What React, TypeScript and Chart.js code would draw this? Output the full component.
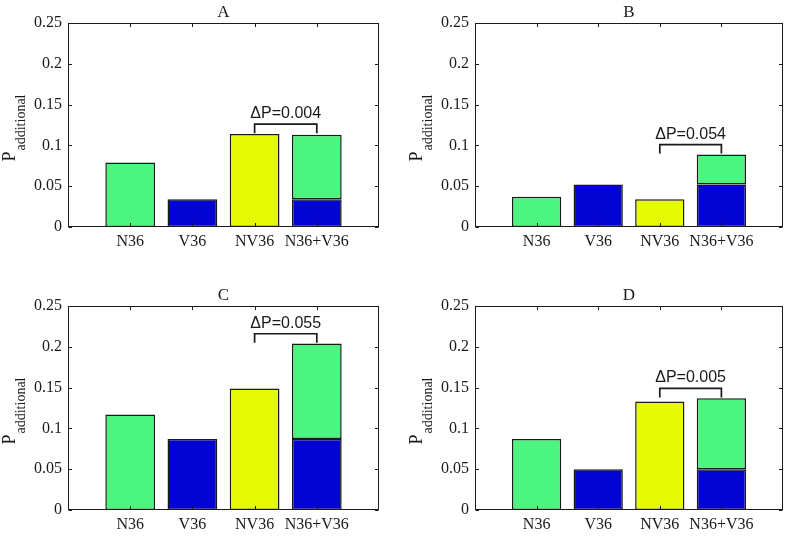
import React, { useEffect, useRef } from 'react';
import { Chart, registerables, Plugin } from 'chart.js';

Chart.register(...registerables);

// values (A, B, C, D)
const panelTitles = ['A', 'B', 'C', 'D'];
const categories = ['N36', 'V36', 'NV36', 'N36+V36'];
const n36Values = [0.079, 0.037, 0.117, 0.087];
const v36Values = [0.034, 0.052, 0.087, 0.05];
const nv36Values = [0.114, 0.034, 0.149, 0.133];
const deltaLabels = ['ΔP=0.004', 'ΔP=0.054', 'ΔP=0.055', 'ΔP=0.005'];
const yTickValues = [0, 0.05, 0.1, 0.15, 0.2, 0.25];

const GREEN = '#4cf57f';
const BLUE = '#0303d2';
const YELLOW = '#e5fa05';
const INK = '#1a1a1a';
const SERIF = "'Liberation Serif', 'Times New Roman', serif";
const SANS = "'Liberation Sans', Arial, sans-serif";

// bracket sits a little above the taller of the two compared bars
const BRACKET_GAP = 0.012;
const BRACKET_LEG = 0.011;

// canvas box of each panel and the plot area inside it (page pixels)
const panelBoxes = [
  { left: 0, top: 0, width: 393, height: 268, plotLeft: 68, plotRight: 379, plotTop: 23, plotBottom: 227 },
  { left: 393, top: 0, width: 394, height: 268, plotLeft: 475, plotRight: 783, plotTop: 23, plotBottom: 227 },
  { left: 0, top: 268, width: 393, height: 269, plotLeft: 68, plotRight: 379, plotTop: 306, plotBottom: 510 },
  { left: 393, top: 268, width: 394, height: 269, plotLeft: 475, plotRight: 783, plotTop: 306, plotBottom: 510 },
];

const fmtTick = (v: number) => String(Number(v.toFixed(2)));

const makeDecorPlugin = (index: number): Plugin<'bar'> => ({
  id: 'decor' + index,
  afterDraw(chart) {
    const { ctx, chartArea } = chart;
    const xs = chart.scales.x;
    const ys = chart.scales.y;
    const { left, right, top, bottom } = chartArea;
    const L = Math.round(left) + 0.5;
    const R = Math.round(right) - 0.5;
    const T = Math.round(top) + 0.5;
    const B = Math.round(bottom) - 0.5;

    ctx.save();
    ctx.strokeStyle = INK;
    ctx.lineWidth = 1;

    // box frame with inward ticks on all four sides
    ctx.strokeRect(L, T, R - L, B - T);
    const tl = 3.5;
    ctx.beginPath();
    ys.ticks.forEach((t) => {
      const y = Math.round(ys.getPixelForValue(t.value)) + 0.5;
      ctx.moveTo(L, y);
      ctx.lineTo(L + tl, y);
      ctx.moveTo(R, y);
      ctx.lineTo(R - tl, y);
    });
    xs.ticks.forEach((t) => {
      const x = Math.round(xs.getPixelForValue(t.value)) + 0.5;
      ctx.moveTo(x, B);
      ctx.lineTo(x, B - tl);
      ctx.moveTo(x, T);
      ctx.lineTo(x, T + tl);
    });
    ctx.stroke();

    // title
    ctx.fillStyle = INK;
    ctx.font = `17px ${SERIF}`;
    ctx.textAlign = 'center';
    ctx.textBaseline = 'alphabetic';
    ctx.fillText(panelTitles[index], (left + right) / 2, top - 6);

    // y label P_additional
    ctx.font = `18px ${SERIF}`;
    const wP = ctx.measureText('P').width;
    ctx.font = `14px ${SERIF}`;
    const wS = ctx.measureText('additional').width;
    const total = wP + 1 + wS;
    const cy = (top + bottom) / 2 + 3;
    ctx.save();
    ctx.translate(left - 53, cy + total / 2);
    ctx.rotate(-Math.PI / 2);
    ctx.textAlign = 'left';
    ctx.font = `18px ${SERIF}`;
    ctx.fillText('P', 0, 0);
    ctx.font = `14px ${SERIF}`;
    ctx.fillText('additional', wP + 1, 10);
    ctx.restore();

    // bracket between NV36 and N36+V36
    const sum = n36Values[index] + v36Values[index];
    const level = Math.max(sum, nv36Values[index]) + BRACKET_GAP;
    const yTop = ys.getPixelForValue(level);
    const yLeg = ys.getPixelForValue(level - BRACKET_LEG);
    const x1 = xs.getPixelForValue(3);
    const x2 = xs.getPixelForValue(4);
    ctx.lineWidth = 1.7;
    ctx.beginPath();
    ctx.moveTo(x1, yLeg);
    ctx.lineTo(x1, yTop);
    ctx.lineTo(x2, yTop);
    ctx.lineTo(x2, yLeg);
    ctx.stroke();

    ctx.font = `16px ${SANS}`;
    ctx.textAlign = 'center';
    ctx.fillText(deltaLabels[index], (x1 + x2) / 2, yTop - 6);
    ctx.restore();
  },
});

interface PanelProps {
  index: number;
}

const Panel: React.FC<PanelProps> = ({ index }) => {
  const canvasRef = useRef<HTMLCanvasElement>(null);
  const box = panelBoxes[index];

  useEffect(() => {
    if (!canvasRef.current) return;
    const yWidth = box.plotLeft - box.left;
    const padRight = box.left + box.width - box.plotRight;
    const padTop = box.plotTop - box.top;
    const xHeight = box.top + box.height - box.plotBottom;

    const chart = new Chart(canvasRef.current, {
      type: 'bar',
      data: {
        datasets: [
          {
            label: 'V36',
            data: [
              { x: 2, y: v36Values[index] },
              { x: 4, y: v36Values[index] },
            ],
            backgroundColor: BLUE,
          },
          {
            label: 'N36',
            data: [
              { x: 1, y: n36Values[index] },
              { x: 4, y: n36Values[index] },
            ],
            backgroundColor: GREEN,
          },
          {
            label: 'NV36',
            data: [{ x: 3, y: nv36Values[index] }],
            backgroundColor: YELLOW,
          },
        ],
      },
      options: {
        animation: false,
        responsive: false,
        maintainAspectRatio: false,
        layout: { padding: { left: 0, right: padRight, top: padTop, bottom: 0 } },
        datasets: {
          bar: {
            barPercentage: 0.8,
            categoryPercentage: 1,
            borderWidth: 1.5,
            borderColor: INK,
            borderSkipped: false,
          },
        },
        plugins: {
          legend: { display: false },
          tooltip: { enabled: false },
          title: { display: false },
        },
        scales: {
          x: {
            type: 'linear',
            min: 0,
            max: 5,
            offset: false,
            stacked: true,
            grid: { display: false, drawTicks: false, offset: false },
            border: { display: false },
            afterBuildTicks: (s: any) => {
              s.ticks = categories.map((_, i) => ({ value: i + 1 }));
            },
            afterFit: (s: any) => {
              s.height = xHeight;
            },
            ticks: {
              autoSkip: false,
              maxRotation: 0,
              padding: 5,
              color: INK,
              font: { family: SERIF, size: 16 },
              callback: (v: any) => categories[Number(v) - 1] ?? '',
            },
          },
          y: {
            type: 'linear',
            min: 0,
            max: 0.25,
            stacked: true,
            grid: { display: false, drawTicks: false },
            border: { display: false },
            afterBuildTicks: (s: any) => {
              s.ticks = yTickValues.map((v) => ({ value: v }));
            },
            afterFit: (s: any) => {
              s.width = yWidth;
            },
            ticks: {
              padding: 6,
              color: INK,
              font: { family: SERIF, size: 16 },
              callback: (v: any) => fmtTick(Number(v)),
            },
          },
        },
      },
      plugins: [makeDecorPlugin(index)],
    });

    return () => {
      chart.destroy();
    };
  }, [index]);

  return (
    <canvas
      ref={canvasRef}
      width={box.width}
      height={box.height}
      style={{
        position: 'absolute',
        left: box.left,
        top: box.top,
        width: box.width,
        height: box.height,
      }}
    />
  );
};

const App: React.FC = () => {
  return (
    <div
      style={{
        position: 'absolute',
        left: 0,
        top: 0,
        width: 787,
        height: 537,
        background: '#ffffff',
        overflow: 'hidden',
      }}
    >
      {panelTitles.map((t, i) => (
        <Panel key={t} index={i} />
      ))}
    </div>
  );
};

export default App;
